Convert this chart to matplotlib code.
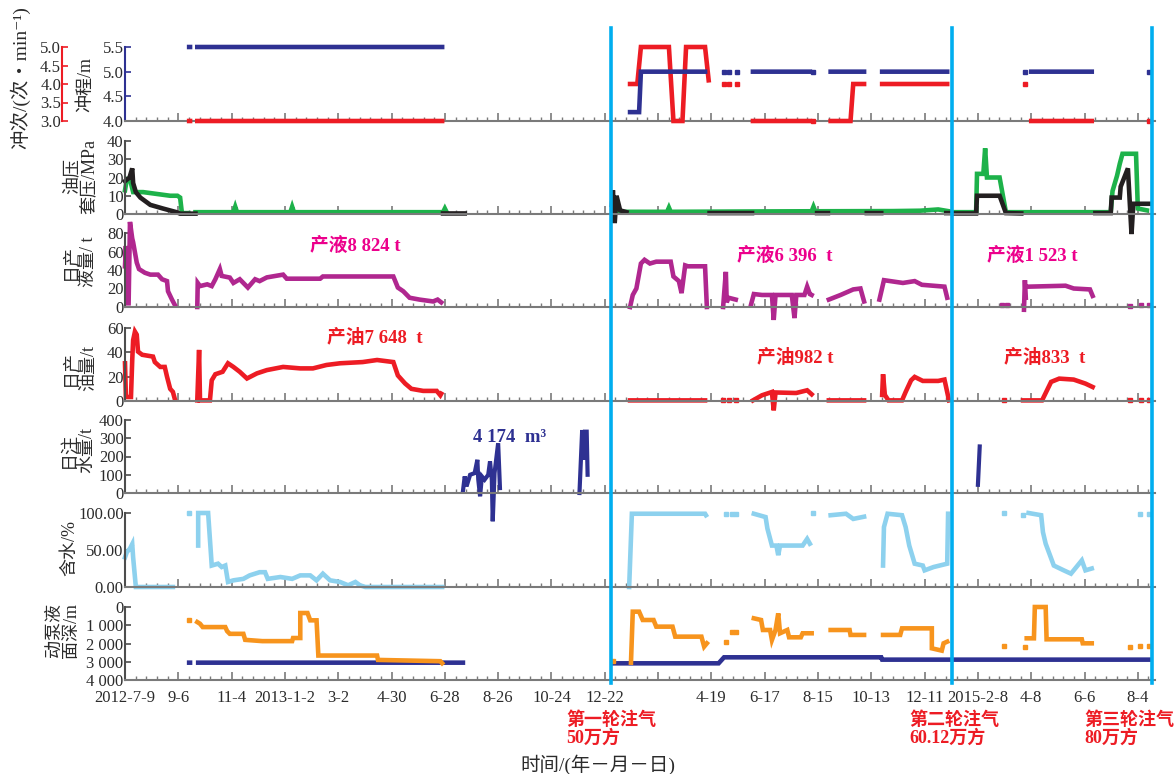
import numpy as np
import matplotlib
matplotlib.use("Agg")
import matplotlib.pyplot as plt

nan = np.nan
plt.rcParams["font.family"] = ["Liberation Serif", "Noto Sans CJK SC", "DejaVu Sans"]

# x axis: days since 2012-7-9, major tick every 59 days
tick_days = [i * 59 for i in range(20)]
tick_labels = ["2012-7-9", "9-6", "11-4", "2013-1-2", "3-2", "4-30", "6-28", "8-26", "10-24", "12-22",
               "", "4-19", "6-17", "8-15", "10-13", "12-11", "2015-2-8", "4-8", "6-6", "8-4"]
gas_days = [538, 915, 1137]

# stroke length (m) and stroke rate (1/min)
stroke_x = [71, 72, nan, 80, 351, nan, 559, 569, 571, 642, nan, 695, 758, nan, 781, 818, nan, 838, 910, nan, 1003, 1070]
stroke_y = [5.5, 5.5, nan, 5.5, 5.5, nan, 4.18, 4.18, 5.0, 5.0, nan, 5.0, 5.0, nan, 5.0, 5.0, nan, 5.0, 5.0, nan, 5.0, 5.0]
stroke_dot_x = [663, 669, 677, 762, 996, 1133]
stroke_dot_y = [5.0, 5.0, 5.0, 5.0, 5.0, 5.0]
rate_x = [71, 72, nan, 80, 351, nan, 559, 567, 571, 602, 607, 617, 621, 642, 646, nan, 695, 758, nan,
          781, 803, 806, 818, nan, 838, 910, nan, 1003, 1070]
rate_y = [3.0, 3.0, nan, 3.0, 3.0, nan, 4.0, 4.0, 5.0, 5.0, 3.0, 3.0, 5.0, 5.0, 4.1, nan, 3.0, 3.0, nan,
          3.0, 3.0, 4.0, 4.0, nan, 4.0, 4.0, nan, 3.0, 3.0]
rate_dot_x = [663, 669, 677, 762, 996, 1133]
rate_dot_y = [4.0, 4.0, 4.0, 3.0, 4.0, 3.0]

# casing pressure (green) / tubing pressure (black), MPa
casing_x = [0, 2, 6, 9, 20, 35, 50, 58, 61, 63, 70, nan, 78, 120, 122, 124, 183, 185, 187, 352, 354, 356, nan,
            541, 600, 602, 604, 700, 760, 762, 764, 850, 880, 900, 912, nan,
            919, 942, 943, 950, 952, 954, 968, 975, 1091, 1093, 1098, 1101, 1104, 1119, 1121, 1131]
casing_y = [13, 19, 18, 12, 12, 11, 10, 10, 9, 0.5, 0.5, nan, 1, 1, 4, 1, 1, 4, 1, 1, 3, 1, nan,
            1.2, 1.2, 3.5, 1.2, 1.4, 1.5, 4, 1.5, 1.6, 1.8, 2.5, 1.5, nan,
            1, 1, 22, 22, 36, 20, 20, 1, 1, 12.6, 21, 27.5, 33, 33, 3, 2]
tubing_x = [0, 5, 8, 9, 12, 17, 28, 42, 57, 61, 78, nan, 352, 376, nan, 539, 540, 542, 544, 548, 555, nan,
            647, 694, nan, 766, 778, nan, 821, 837, nan, 909, 913, nan, 918, 942, 943, 968, 975, 992, nan,
            1074, 1091, 1092, 1101, 1102, 1110, 1114, 1116, 1133]
tubing_y = [18, 20, 25, 17, 12, 9, 5, 3, 1, 0.2, 0.2, nan, 0.3, 0.3, nan, 5, 13, -5, 10, 2, 1, nan,
            0.5, 0.5, nan, 0.5, 0.5, nan, 0.5, 0.5, nan, 0.5, 0.5, nan, 0.3, 0.3, 10, 10, 0.5, 0.3, nan,
            0.5, 0.5, 9, 9, 15, 25, -11, 5.6, 5.6]

# daily liquid (t)
liquid_x = [0, 1, 2, 4, 5.5, 8, 9, 11, 13, 15.5, 22, 28, 36.5, 41, 46.5, 47.6, 52, 55, nan,
            80, 80.5, 83, 91, 96, 100, 105, 107, 116, 120, 127, 136, 144, 149, 157, 175, 179, 216, 219,
            297, 302, 308, 315, 326, 341, 346, 350, nan,
            559, 562, 566, 571, 575, 581, 588, 604, 607, 613, 616, 620, 623, 642, 644, nan,
            662, 665, 666, 668, 676, nan,
            693, 696, 705, 716, 718, 720, 738, 741, 743, 752, 755, 758, 760, nan,
            779, 792, 806, 814, 818, nan,
            835, 840, 861, 874, 882, 907, 910, nan,
            995, 996, 997, nan, 1000, 1041, 1050, 1068, 1071]
liquid_y = [44, 66, 4, 4, 92, 74, 70, 59, 48, 41, 37, 35, 35, 30, 28, 17, 8, 2.5, nan,
            0, 26, 22.6, 24.5, 22.6, 30, 41, 33.6, 31.8, 26, 30, 21, 30, 28, 32, 35, 30.6, 30.6, 33,
            33, 21, 17, 10, 8, 6, 8, 5, nan,
            0, 13, 20, 47, 51, 47, 49, 49, 33, 28, 15, 45, 44, 44, 0, nan,
            0, 38, 5, 10, 8, nan,
            3, 14, 13, 13, -14, 13, 13, -12, 13, 13, 22, 14, 13, nan,
            8, 13, 19, 20, 6, nan,
            8, 29, 26, 28, 24, 22, 10, nan,
            -3, 29, 10, nan, 22, 23, 20, 19, 12]
liquid_dot_x = [971, 976, 1112, 1125, 1133]
liquid_dot_y = [2.5, 2.5, 1.5, 2, 2]

# daily oil (t)
oil_x = [0, 1, 6.6, 8, 9, 11, 13, 14.4, 19, 31, 33, 39, 44, 46.5, 50, 53, 55, nan,
         80, 82, 83, 94, 96, 100, 108, 114, 120, 127, 135, 146, 157, 175, 194, 208, 223, 238, 263, 279, 297,
         302, 310, 317, 330, 345, 349, 350, nan,
         559, 642, nan, 695, 705, 716, 718, 720, 741, 743, 755, 760, nan, 779, 818, nan,
         838, 839, 841, 845, 860, 864, 870, 874, 883, 900, 907, 912, nan,
         994, 1015, 1025, 1034, 1050, 1063, 1071]
oil_y = [31, 3.3, 3.3, 33.7, 50, 57, 54.5, 40.6, 38, 36.5, 32, 28, 28, 20, 10, 7.5, 2, nan,
         0.5, 42, 0.5, 0.5, 17, 22, 24, 31, 28, 24, 18.5, 22.7, 25.4, 28, 26.8, 26.8, 29.6, 31, 32, 33.7, 32,
         21, 14.4, 10, 8.3, 8.3, 4.7, 6, nan,
         0.5, 0.5, nan, 0.5, 4.7, 7.4, -7.7, 7, 6.6, 6.6, 8.8, 5.5, nan, 0.5, 0.5, nan,
         5, 22, 5, 0.5, 0.5, 7.4, 17, 19.8, 16.5, 16.5, 17.6, 0.5, nan,
         0.5, 0.5, 15.7, 18.4, 17.6, 14.3, 11.5]
oil_dot_x = [662, 669, 676, 973, 1112, 1125, 1133]
oil_dot_y = [0.5, 0.5, 0.5, 0.5, 0.5, 0.5, 0.5]

# daily water injection (t)
inj_x = [374, 376, 378, 382, 387, 390, 391, 393, 395, 398, 402, 404, 406, 407, 409, 413, 415, nan,
         503, 506, 507, 509, 511, 512, nan, 944, 946]
inj_y = [9, 91, 36, 100, 109, 182, 73, -18, 91, 73, 100, 173, 73, -155, 109, 273, 27, nan,
         0, 345, 182, 336, 336, 100, nan, 45, 255]

# water cut (%)
wcut_x = [0, 2, 5.5, 8, 9, 12, 53, nan,
          81, 81, 92, 96, 103, 107, 111, 114, 120, 131, 138, 149, 155, 158, 172, 185, 194, 205, 212, 219,
          227, 238, 247, 255, 260, 266, 351, nan,
          558, 561, 642, 643, nan,
          696, 709, 711, 716, 721, 723, 725, 750, 755, 758, nan,
          781, 798, 806, 818, nan,
          839, 840, 844, 860, 864, 868, 874, 883, 885, 895, 910, 911, nan,
          1000, 1014, 1016, 1019, 1028, 1039, 1047, 1059, 1063, 1070]
wcut_y = [40, 47, 52, 58, 40, 0, 0, nan,
          56, 100, 100, 29, 31.5, 27, 29, 6.8, 9, 11, 15.7, 20, 20, 11, 13.5, 11, 15.7, 15.7, 9, 18,
          9, 6.8, 2.3, 6.8, 2.3, 0, 0, nan,
          0, 99, 99, 97, nan,
          99, 94.5, 79, 56, 56, 43, 56, 56, 65, 58.5, nan,
          97, 99, 92, 95, nan,
          29, 81, 99, 97, 81, 56, 31.5, 29, 22.5, 27, 31.5, 99, nan,
          100, 97, 74, 58.5, 29, 22.5, 18, 36, 22.5, 25]
wcut_dot_x = [71, 665, 672, 676, 762, 973, 994, 1123, 1133]
wcut_dot_y = [100, 99, 99, 99, 100, 100, 97, 98, 98]

# dynamic fluid level (orange) and pump depth (blue), m
level_x = [80, 83, 86, 111, 113, 116, 131, 133, 152, 185, 186, 194, 194, 202, 205, 212, 214, 279, 280, 349, 351, nan,
           560, 562, 569, 573, 585, 588, 606, 609, 638, 641, 644, nan,
           696, 704, 706, 714, 716, 720, 723, 725, 733, 735, 748, 750, 760, nan,
           781, 802, 803, 818, nan,
           839, 858, 860, 893, 893, 904, 906, 910, nan,
           998, 1006, 1007, 1019, 1020, 1059, 1060, 1070]
level_y = [825, 917, 1100, 1100, 1320, 1470, 1470, 1800, 1870, 1870, 1700, 1700, 330, 330, 730, 730, 2660, 2660, 2900, 2970, 3080, nan,
           3050, 256, 256, 712, 712, 1077, 1077, 1625, 1625, 2170, 1990, nan,
           620, 712, 1260, 1260, 1808, 1260, 347, 1440, 1260, 1660, 1660, 1440, 1440, nan,
           1260, 1260, 1530, 1530, nan,
           1530, 1530, 1170, 1170, 2265, 2390, 1990, 1900, nan,
           1716, 1716, 0, 0, 1770, 1770, 1990, 1990]
level_dot_x = [71, 540, 665, 672, 676, 973, 996, 1112, 1123, 1133]
level_dot_y = [730, 2950, 1900, 1350, 1350, 2120, 2170, 2170, 2120, 2120]
pump_x = [71, 72, nan, 81, 374, nan, 540, 657, 663, 837, 838, 1133]
pump_y = [3050, 3050, nan, 3050, 3050, nan, 3086, 3086, 2757, 2757, 2885, 2885]

NAVY = "#2E3192"
RED = "#ED1C24"
GREEN = "#1DB24A"
BLACK = "#231F20"
PURPLE = "#B0278F"
SKY = "#8DD1EE"
ORANGE = "#F7941D"
CYAN = "#00AEEF"
PINK = "#EC008C"
GRAY = "#7A7A7A"
TXT = "#2B2B2B"

W_PX, H_PX = 1176, 774
X0, X1 = 125, 1155
XMAX = 1140
LW = 3.3

fig = plt.figure(figsize=(W_PX / 100, H_PX / 100), dpi=100)


def panel(top, bottom):
    return fig.add_axes([X0 / W_PX, 1 - bottom / H_PX, (X1 - X0) / W_PX, (bottom - top) / H_PX])


def style(ax, ylim, yticks, ylabels, spine_color="#4D4D4D", bottom_labels=False):
    ax.set_xlim(0, XMAX)
    ax.set_ylim(*ylim)
    ax.patch.set_alpha(0)
    for s in ["top", "right"]:
        ax.spines[s].set_visible(False)
    ax.spines["left"].set_color(spine_color)
    ax.spines["left"].set_linewidth(1.5)
    ax.spines["bottom"].set_color(GRAY)
    ax.spines["bottom"].set_linewidth(1.5)
    ax.set_xticks(tick_days)
    ax.set_xticks(np.arange(0, XMAX, 59 / 5), minor=True)
    ax.set_xticklabels(tick_labels if bottom_labels else [""] * len(tick_days))
    ax.tick_params(axis="x", which="major", direction="in", length=6, width=1.2, color=GRAY,
                   labelsize=12, pad=7, labelcolor=TXT)
    ax.tick_params(axis="x", which="minor", direction="in", length=3, width=1.0, color=GRAY)
    ax.set_yticks(yticks)
    ax.set_yticklabels(ylabels)
    ax.tick_params(axis="y", direction="in", length=4, width=1.2, color=spine_color,
                   labelsize=12, pad=1, labelcolor=TXT)


def line(ax, x, y, color, lw=LW):
    ax.plot(x, y, color=color, lw=lw, clip_on=False, solid_joinstyle="miter")


def dots(ax, x, y, color):
    ax.plot(x, y, ls="none", marker="s", ms=3.5, color=color, clip_on=False)


# panel 1: stroke length / stroke rate
ax1 = panel(47, 121)
style(ax1, (4.0, 5.5), [4.0, 4.5, 5.0, 5.5], ["4.0", "4.5", "5.0", "5.5"], spine_color=NAVY)
ax1r = ax1.twinx()
ax1r.set_ylim(3.0, 5.0)
for s in ["top", "right", "bottom"]:
    ax1r.spines[s].set_visible(False)
ax1r.spines["left"].set_visible(True)
ax1r.spines["left"].set_position(("outward", 45))
ax1r.spines["left"].set_color(RED)
ax1r.spines["left"].set_linewidth(1.5)
ax1r.yaxis.set_ticks_position("left")
ax1r.set_yticks([3.0, 3.5, 4.0, 4.5, 5.0])
ax1r.set_yticklabels(["3.0", "3.5", "4.0", "4.5", "5.0"])
ax1r.tick_params(axis="y", direction="in", length=4, width=1.2, color=RED, labelsize=12, pad=1,
                 labelcolor=TXT)
line(ax1r, rate_x, rate_y, RED)
dots(ax1r, rate_dot_x, rate_dot_y, RED)
line(ax1r, stroke_x, [(v - 4.0) / 1.5 * 2 + 3.0 for v in stroke_y], NAVY)
dots(ax1r, stroke_dot_x, [(v - 4.0) / 1.5 * 2 + 3.0 for v in stroke_dot_y], NAVY)

# panel 2: pressures
ax2 = panel(141, 214)
style(ax2, (0, 40), [0, 10, 20, 30, 40], ["0", "10", "20", "30", "40"])
line(ax2, casing_x, casing_y, GREEN)
line(ax2, tubing_x, tubing_y, BLACK)

# panel 3: liquid
ax3 = panel(233, 307)
style(ax3, (0, 80), [0, 20, 40, 60, 80], ["0", "20", "40", "60", "80"])
line(ax3, liquid_x, liquid_y, PURPLE)
dots(ax3, liquid_dot_x, liquid_dot_y, PURPLE)

# panel 4: oil
ax4 = panel(328, 401)
style(ax4, (0, 60), [0, 20, 40, 60], ["0", "20", "40", "60"])
line(ax4, oil_x, oil_y, RED)
dots(ax4, oil_dot_x, oil_dot_y, RED)

# panel 5: injection
ax5 = panel(420, 493)
style(ax5, (0, 400), [0, 100, 200, 300, 400], ["0", "100", "200", "300", "400"])
line(ax5, inj_x, inj_y, NAVY, lw=3.0)

# panel 6: water cut
ax6 = panel(513, 587)
style(ax6, (0, 100), [0, 50, 100], ["0.00", "50.00", "100.00"])
line(ax6, wcut_x, wcut_y, SKY)
dots(ax6, wcut_dot_x, wcut_dot_y, SKY)

# panel 7: fluid level / pump depth
ax7 = panel(607, 680)
style(ax7, (4000, 0), [0, 1000, 2000, 3000, 4000], ["0", "1 000", "2 000", "3 000", "4 000"],
      bottom_labels=True)
line(ax7, pump_x, pump_y, NAVY)
line(ax7, level_x, level_y, ORANGE)
dots(ax7, level_dot_x, level_dot_y, ORANGE)

# gas injection markers across all panels
axo = fig.add_axes([X0 / W_PX, 1 - 683 / H_PX, (X1 - X0) / W_PX, (683 - 28) / H_PX], zorder=10)
axo.set_xlim(0, XMAX)
axo.set_ylim(0, 1)
axo.axis("off")
axo.patch.set_alpha(0)
for d in gas_days:
    axo.axvline(d, color=CYAN, lw=2.6, clip_on=False)


def ftext(x, y, s, **kw):
    fig.text(x / W_PX, 1 - y / H_PX, s, **kw)


# axis titles
ftext(20, 78, "冲次/(次・min⁻¹)", rotation=90, ha="center", va="center", fontsize=14, color=TXT)
ftext(86, 85, "冲程/m", rotation=90, ha="center", va="center", fontsize=13, color=TXT)
ylab = dict(rotation=90, ha="center", va="center", fontsize=13, color=TXT, multialignment="center",
            linespacing=1.05)
ftext(81, 176, "油压\n套压/MPa", **ylab)
ftext(80, 262, "日产\n液量/ t", **ylab)
ftext(80, 368, "日产\n油量/t", **ylab)
ftext(78, 450, "日注\n水量/t", **ylab)
ftext(70, 548, "含水/%", **ylab)
ftext(63, 630, "动泵液\n面深/m", **ylab)

# cumulative annotations
note = dict(ha="center", va="center", fontsize=13.5, fontweight="bold")
ftext(355, 246, "产液8 824 t", color=PINK, **note)
ftext(785, 256, "产液6 396  t", color=PINK, **note)
ftext(1032, 256, "产液1 523 t", color=PINK, **note)
ftext(375, 338, "产油7 648  t", color=RED, **note)
ftext(795, 358, "产油982 t", color=RED, **note)
ftext(1045, 358, "产油833  t", color=RED, **note)
ftext(510, 438, "4 174  m³", color=NAVY, **note)

gas = dict(ha="left", va="top", fontsize=13, fontweight="bold", color=RED, linespacing=1.05)
ftext(566, 711, "第一轮注气\n50万方", **gas)
ftext(909, 711, "第二轮注气\n60.12万方", **gas)
ftext(1084, 711, "第三轮注气\n80万方", **gas)

ftext(598, 765, "时间/(年－月－日)", ha="center", va="center", fontsize=14, color=TXT)

fig.savefig("out.png", dpi=100)
